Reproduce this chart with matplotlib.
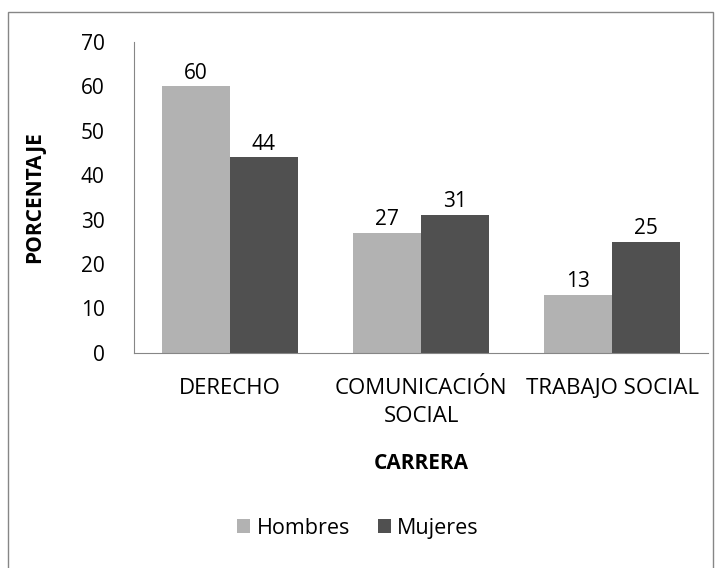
import numpy as np
import matplotlib
matplotlib.use("Agg")
import matplotlib.pyplot as plt
from matplotlib.patches import Rectangle

# Data
carreras = ["DERECHO", "COMUNICACIÓN\nSOCIAL", "TRABAJO SOCIAL"]
hombres = [60, 27, 13]
mujeres = [44, 31, 25]
series_names = ["Hombres", "Mujeres"]
yticks = [0, 10, 20, 30, 40, 50, 60, 70]

plt.rcParams['font.family'] = ['Open Sans', 'DejaVu Sans']

fig = plt.figure(figsize=(7.16, 5.68), dpi=100)
ax = fig.add_axes([0.187, 0.379, 0.802, 0.547])

# outer frame around the whole chart
fig.patches.append(Rectangle((0.011, -0.01), 0.985, 0.989, transform=fig.transFigure,
                             fill=False, edgecolor='#868686', linewidth=1.0))

x = np.arange(len(carreras))
w = 0.355
b1 = ax.bar(x - w / 2, hombres, w, color='#B2B2B2', label=series_names[0])
b2 = ax.bar(x + w / 2, mujeres, w, color='#505050', label=series_names[1])

for bars, vals in ((b1, hombres), (b2, mujeres)):
    for r, v in zip(bars, vals):
        ax.annotate(str(v), (r.get_x() + r.get_width() / 2, v), xytext=(0, 2),
                    textcoords='offset points', ha='center', va='bottom', fontsize=15)

ax.set_xlim(-0.5, 2.5)
ax.set_ylim(0, 70)
ax.set_yticks(yticks)
ax.set_xticks(x)
ax.set_xticklabels(carreras, fontsize=16, linespacing=1.45)
ax.tick_params(axis='y', labelsize=15, length=0, pad=21)
ax.tick_params(axis='x', length=0, pad=18)

for s in ['top', 'right']:
    ax.spines[s].set_visible(False)
for s in ['left', 'bottom']:
    ax.spines[s].set_color('#868686')

ax.set_ylabel("PORCENTAJE", fontsize=15, fontweight='bold', labelpad=26)
ax.set_xlabel("CARRERA", fontsize=15, fontweight='bold', labelpad=19)

fig.legend(handles=[b1, b2], loc='center', bbox_to_anchor=(0.5, 0.07), ncol=2,
           frameon=False, fontsize=15.5, handlelength=0.6, handleheight=0.6,
           handletextpad=0.3, columnspacing=1.3)

fig.savefig("out.png", dpi=100)
